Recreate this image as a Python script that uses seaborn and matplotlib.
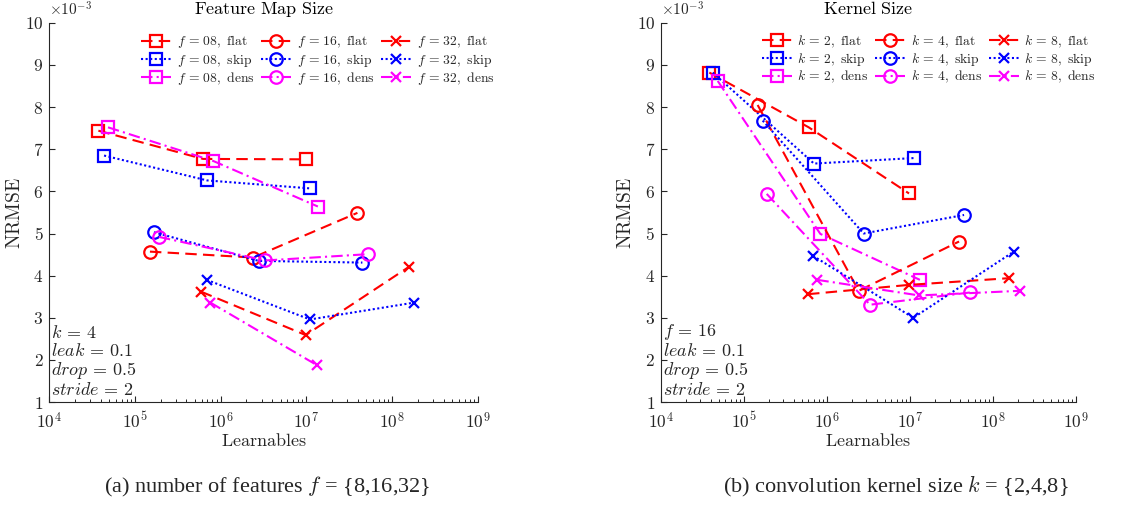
import numpy as np
import pandas as pd
import matplotlib
matplotlib.use('Agg')
import matplotlib.pyplot as plt
import matplotlib.ticker as mticker
import seaborn as sns

# NRMSE values are in units of 1e-3
kinds = ['flat', 'skip', 'dens']

# (a) feature map size, k = 4
fm_groups = ['08', '16', '32']
fm_x = {
    '08': [[3.76e4, 6.24e5, 9.8e6], [4.38e4, 6.95e5, 1.11e7], [4.87e4, 8.23e5, 1.36e7]],
    '16': [[1.5e5, 2.39e6, 3.93e7], [1.67e5, 2.78e6, 4.49e7], [1.91e5, 3.32e6, 5.27e7]],
    '32': [[5.91e5, 9.8e6, 1.57e8], [6.88e5, 1.1e7, 1.8e8], [7.6e5, 1.34e7]],
}
fm_y = {
    '08': [[7.44, 6.77, 6.76], [6.85, 6.26, 6.07], [7.52, 6.72, 5.64]],
    '16': [[4.57, 4.43, 5.49], [5.03, 4.35, 4.31], [4.92, 4.36, 4.51]],
    '32': [[3.62, 2.59, 4.21], [3.90, 2.96, 3.36], [3.36, 1.87]],
}

# (b) kernel size, f = 16
ks_groups = ['2', '4', '8']
ks_x = {
    '2': [[3.85e4, 6.05e5, 9.77e6], [4.23e4, 7.0e5, 1.11e7], [4.86e4, 8.36e5, 1.32e7]],
    '4': [[1.47e5, 2.42e6, 3.91e7], [1.69e5, 2.78e6, 4.49e7], [1.89e5, 3.31e6, 5.3e7]],
    '8': [[5.94e5, 9.68e6, 1.57e8], [6.82e5, 1.1e7, 1.78e8], [7.69e5, 1.29e7, 2.12e8]],
}
ks_y = {
    '2': [[8.82, 7.52, 5.95], [8.82, 6.66, 6.79], [8.62, 4.99, 3.90]],
    '4': [[8.05, 3.64, 4.81], [7.68, 5.00, 5.44], [5.94, 3.31, 3.60]],
    '8': [[3.56, 3.78, 3.94], [4.47, 3.00, 4.57], [3.90, 3.53, 3.64]],
}

kind_color = {'flat': '#ff0000', 'skip': '#0000ff', 'dens': '#ff00ff'}
kind_ls = {'flat': (0, (5.5, 3)), 'skip': (0, (1, 1.2)), 'dens': (0, (5.5, 2, 1, 2))}
markers = ['s', 'o', 'x']
msize = {'s': 8.5, 'o': 9, 'x': 7}

sns.set_style('ticks')
plt.rcParams['font.family'] = ['DejaVu Serif']
plt.rcParams['mathtext.fontset'] = 'cm'
axis_gray = '#262626'

fig = plt.figure(figsize=(11.48, 5.07), dpi=100)
ax1 = fig.add_axes([0.0427, 0.207, 0.3737, 0.748])
ax2 = fig.add_axes([0.5755, 0.207, 0.3618, 0.748])


def draw(ax, groups, xs, ys, sym, title, note, leg_x):
    for g, m in zip(groups, markers):
        for i, kind in enumerate(kinds):
            df = pd.DataFrame({'x': xs[g][i], 'y': ys[g][i]})
            sns.lineplot(data=df, x='x', y='y', ax=ax, sort=False,
                         color=kind_color[kind], linestyle=kind_ls[kind], lw=1.5,
                         marker=m, markersize=msize[m],
                         markerfacecolor='none', markeredgecolor=kind_color[kind],
                         markeredgewidth=1.6,
                         label=r'$%s\,=\,%s,\ \mathrm{%s}$' % (sym, g, kind))
    ax.set_xscale('log')
    ax.set_xlim(1e4, 1e9)
    ax.set_ylim(1, 10)
    ax.set_yticks(range(1, 11))
    ax.yaxis.set_major_formatter(mticker.FuncFormatter(lambda v, p: r'$%d$' % v))
    ax.xaxis.set_major_locator(mticker.LogLocator(base=10, numticks=10))
    ax.xaxis.set_minor_locator(mticker.LogLocator(base=10, subs=np.arange(2, 10), numticks=20))
    ax.xaxis.set_major_formatter(mticker.FuncFormatter(
        lambda v, p: r'$10^{%d}$' % int(round(np.log10(v)))))
    ax.xaxis.set_minor_formatter(mticker.NullFormatter())
    ax.tick_params(which='both', direction='in', colors=axis_gray, labelsize=12.5)
    ax.tick_params(axis='x', pad=7)
    ax.tick_params(axis='y', pad=4)
    ax.tick_params(which='major', length=4, width=0.8)
    ax.tick_params(which='minor', length=2.5, width=0.7)
    for s in ['top', 'right']:
        ax.spines[s].set_visible(False)
    for s in ['left', 'bottom']:
        ax.spines[s].set_color(axis_gray)
        ax.spines[s].set_linewidth(0.8)
    ax.set_xlabel(r'$\mathrm{Learnables}$', fontsize=13, color=axis_gray, labelpad=0)
    ax.set_ylabel(r'$\mathrm{NRMSE}$', fontsize=14, color=axis_gray, labelpad=1)
    ax.set_title(title, fontsize=13, color='black', pad=6)
    ax.text(0.0, 1.012, r'$\times10^{-3}$', transform=ax.transAxes, fontsize=11,
            color=axis_gray, ha='left', va='bottom')
    ax.text(0.005, 0.008, note, transform=ax.transAxes, fontsize=13,
            ha='left', va='bottom', linespacing=1.0, color=axis_gray)
    ax.legend(ncol=3, loc='upper left', bbox_to_anchor=(leg_x, 0.972), frameon=False,
              fontsize=9.8, handlelength=2.2, handletextpad=0.4, columnspacing=0.5,
              labelspacing=0.08, borderaxespad=0, borderpad=0)


draw(ax1, fm_groups, fm_x, fm_y, 'f', r'$\mathrm{Feature\ Map\ Size}$',
     '$k\\,=\\,4$\n$leak\\,=\\,0.1$\n$drop\\,=\\,0.5$\n$stride\\,=\\,2$', 0.215)
draw(ax2, ks_groups, ks_x, ks_y, 'k', r'$\mathrm{Kernel\ Size}$',
     '$f\\,=\\,16$\n$leak\\,=\\,0.1$\n$drop\\,=\\,0.5$\n$stride\\,=\\,2$', 0.243)

fig.text(0.233, 0.04, r'(a) number of features $f$ = {8,16,32}', ha='center', va='center',
         fontsize=16, family='Liberation Serif')
fig.text(0.78, 0.04, r'(b) convolution kernel size $k$ = {2,4,8}', ha='center', va='center',
         fontsize=16, family='Liberation Serif')

fig.savefig('out.png', dpi=100)
